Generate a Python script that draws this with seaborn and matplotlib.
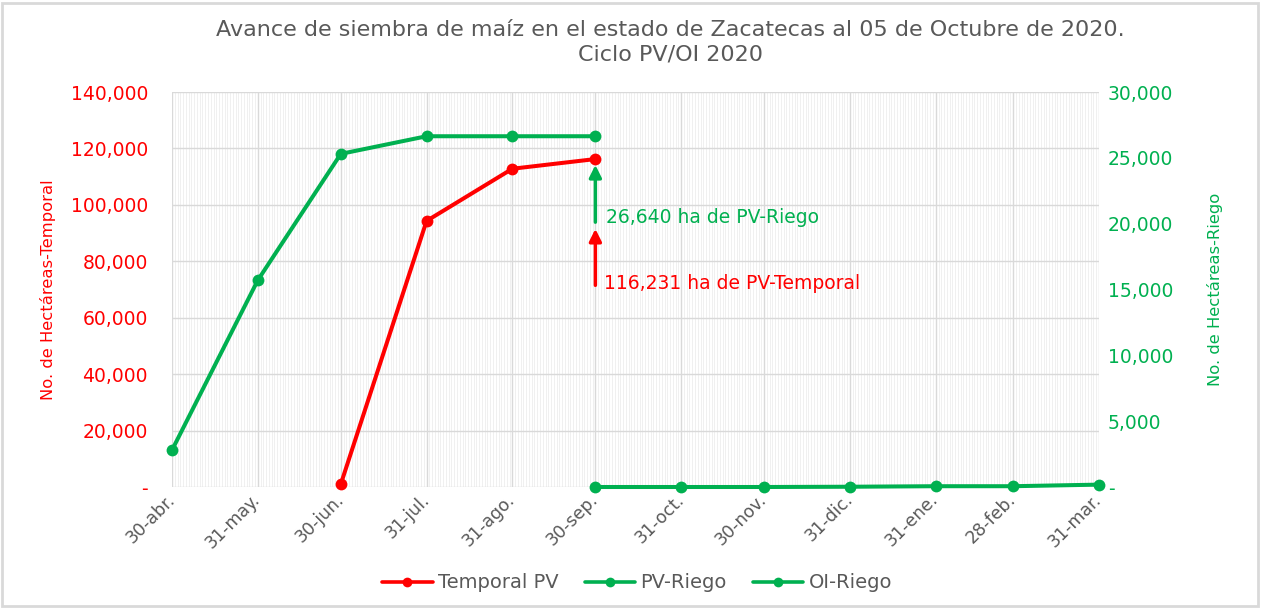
import numpy as np
import pandas as pd
import matplotlib
matplotlib.use('Agg')
import matplotlib.pyplot as plt
import matplotlib.dates as mdates
from matplotlib.ticker import FuncFormatter, MultipleLocator
from matplotlib.lines import Line2D
from matplotlib.patches import Rectangle
import seaborn as sns

# ---------------- data ----------------
fechas_temporal = ['2020-06-30', '2020-07-31', '2020-08-31', '2020-09-30']
temporal_pv = [1000, 94300, 112800, 116231]

fechas_pv_riego = ['2020-04-30', '2020-05-31', '2020-06-30', '2020-07-31', '2020-08-31', '2020-09-30']
pv_riego = [2800, 15700, 25300, 26640, 26640, 26640]

fechas_oi_riego = ['2020-09-30', '2020-10-31', '2020-11-30', '2020-12-31', '2021-01-31', '2021-02-28', '2021-03-31']
oi_riego = [0, 0, 0, 20, 60, 60, 180]

tick_fechas = ['2020-04-30', '2020-05-31', '2020-06-30', '2020-07-31', '2020-08-31', '2020-09-30',
               '2020-10-31', '2020-11-30', '2020-12-31', '2021-01-31', '2021-02-28', '2021-03-31']
tick_labels = ['30-abr.', '31-may.', '30-jun.', '31-jul.', '31-ago.', '30-sep.',
               '31-oct.', '30-nov.', '31-dic.', '31-ene.', '28-feb.', '31-mar.']

series_names = ['Temporal PV', 'PV-Riego', 'OI-Riego']
titulo = "Avance de siembra de maíz en el estado de Zacatecas al 05 de Octubre de 2020.\nCiclo PV/OI 2020"
ylabel_izq = "No. de Hectáreas-Temporal"
ylabel_der = "No. de Hectáreas-Riego"
nota_riego = "26,640 ha de PV-Riego"
nota_temporal = "116,231 ha de PV-Temporal"

RED = '#FF0000'
GREEN = '#00B050'
GRAY = '#595959'

sns.set_theme(style='white')
plt.rcParams['font.family'] = ['DejaVu Sans']

W, H = 1262, 608
fig = plt.figure(figsize=(W / 100, H / 100), dpi=100)
x0, x1, y0, y1 = 172, 1099, 92, 487
ax = fig.add_axes([x0 / W, 1 - y1 / H, (x1 - x0) / W, (y1 - y0) / H])
ax2 = ax.twinx()

df_t = pd.DataFrame({'fecha': pd.to_datetime(fechas_temporal), 'ha': temporal_pv})
df_pv = pd.DataFrame({'fecha': pd.to_datetime(fechas_pv_riego), 'ha': pv_riego})
df_oi = pd.DataFrame({'fecha': pd.to_datetime(fechas_oi_riego), 'ha': oi_riego})

line_kw = dict(lw=2.9, marker='o', markersize=8.5, markeredgewidth=0, legend=False)
sns.lineplot(data=df_t, x='fecha', y='ha', ax=ax, color=RED, zorder=5, **line_kw)
sns.lineplot(data=df_pv, x='fecha', y='ha', ax=ax2, color=GREEN, zorder=5, **line_kw)
sns.lineplot(data=df_oi, x='fecha', y='ha', ax=ax2, color=GREEN, zorder=5, **line_kw)
for a in (ax, ax2):
    for ln in a.lines:
        ln.set_clip_on(False)

xmin = pd.Timestamp(tick_fechas[0])
xmax = pd.Timestamp(tick_fechas[-1])
ax.set_xlim(xmin, xmax)
ax.set_ylim(0, 140000)
ax2.set_ylim(0, 30000)

# grid
ax.set_xticks(pd.to_datetime(tick_fechas))
ax.set_xticklabels(tick_labels)
ax.xaxis.set_minor_locator(mdates.DayLocator())
ax.grid(which='minor', axis='x', color='#eeeeee', lw=0.6)
ax.grid(which='major', axis='x', color='#d9d9d9', lw=1.0)
ax.yaxis.set_major_locator(MultipleLocator(20000))
ax.grid(which='major', axis='y', color='#d9d9d9', lw=1.0)
ax.set_axisbelow(True)
ax2.yaxis.set_major_locator(MultipleLocator(5000))
ax2.grid(False)

fmt = FuncFormatter(lambda v, p: '-' if v == 0 else f'{v:,.0f}')
ax.yaxis.set_major_formatter(fmt)
ax2.yaxis.set_major_formatter(fmt)

for s in list(ax.spines.values()) + list(ax2.spines.values()):
    s.set_visible(False)

ax.tick_params(axis='y', length=0, pad=17.3, labelsize=13.5, labelcolor=RED)
ax2.tick_params(axis='y', length=0, pad=6.5, labelsize=13.5, labelcolor=GREEN)
ax.tick_params(axis='x', which='both', length=0, pad=7, labelsize=12.5, labelcolor=GRAY)
for lbl in ax.get_xticklabels():
    lbl.set_rotation(45)
    lbl.set_ha('right')
    lbl.set_va('center')
    lbl.set_rotation_mode('anchor')

ax.set_xlabel('')
ax.set_ylabel(ylabel_izq, color=RED, fontsize=11.8)
ax.yaxis.set_label_coords((56 - x0) / (x1 - x0), 0.5)
ax2.set_xlabel('')
ax2.set_ylabel(ylabel_der, color=GREEN, fontsize=11.8)
ax2.yaxis.set_label_coords((1207 - x0) / (x1 - x0), 0.5)

# annotations
x_last = pd.Timestamp(fechas_pv_riego[-1])
ax2.annotate('', xy=(x_last, pv_riego[-1] * 0.918), xytext=(x_last, pv_riego[-1] * 0.755),
             arrowprops=dict(arrowstyle='-|>', color=GREEN, lw=2.5, mutation_scale=18, shrinkA=0, shrinkB=0))
ax2.text(x_last + pd.Timedelta(days=4), pv_riego[-1] * 0.767, nota_riego, color=GREEN,
         fontsize=13.5, va='center', ha='left')
ax.annotate('', xy=(x_last, temporal_pv[-1] * 0.787), xytext=(x_last, temporal_pv[-1] * 0.615),
            arrowprops=dict(arrowstyle='-|>', color=RED, lw=2.5, mutation_scale=18, shrinkA=0, shrinkB=0))
ax.text(x_last + pd.Timedelta(days=3), temporal_pv[-1] * 0.622, nota_temporal, color=RED,
        fontsize=13.5, va='center', ha='left')

# title
fig.text(0.531, 1 - 42 / H, titulo, ha='center', va='center', fontsize=16, color=GRAY, linespacing=1.25)

# legend
handles = [Line2D([], [], color=c, lw=2.6, marker='o', markersize=7, markeredgewidth=0)
           for c in (RED, GREEN, GREEN)]
fig.legend(handles, series_names, loc='center', bbox_to_anchor=(637 / W, 1 - 583 / H), ncol=3,
           frameon=False, fontsize=14, labelcolor=GRAY, handlelength=2.6, handletextpad=0.26,
           columnspacing=1.35)

# outer border
fig.patches.append(Rectangle((2 / W, 2 / H), 1 - 6 / W, 1 - 5 / H, transform=fig.transFigure,
                             fill=False, edgecolor='#d9d9d9', lw=2))

fig.savefig('out.png', dpi=100)
